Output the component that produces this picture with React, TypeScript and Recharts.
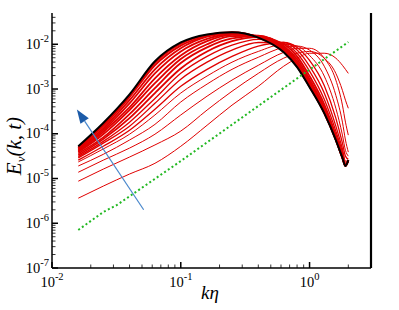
import { LineChart, Line, XAxis, YAxis, ReferenceArea, ReferenceLine } from "recharts";

// wavenumber samples (k*eta) shared by all spectra
const kEta = [0.016, 0.025, 0.04, 0.063, 0.1, 0.16, 0.25, 0.4, 0.63, 0.8, 1.0, 1.3, 1.6, 1.8, 1.9, 2.0];

// log10 E_v(k,t), earliest spectrum first
const spec01 = [-5.44, -5.17, -4.9, -4.66, -4.28, -3.81, -3.36, -2.94, -2.49, -2.31, -2.2, -2.2, -2.31, -2.47, -2.56, -2.65];
const spec02 = [-5.06, -4.79, -4.52, -4.25, -3.94, -3.47, -3.05, -2.65, -2.31, -2.2, -2.16, -2.31, -2.65, -3.03, -3.25, -3.43];
const spec03 = [-4.86, -4.59, -4.32, -4.01, -3.58, -3.16, -2.8, -2.47, -2.18, -2.09, -2.09, -2.31, -2.8, -3.36, -3.74, -4.03];
const spec04 = [-4.72, -4.46, -4.14, -3.79, -3.29, -2.89, -2.56, -2.29, -2.07, -2.04, -2.13, -2.49, -3.14, -3.74, -4.14, -4.41];
const spec05 = [-4.63, -4.34, -4.01, -3.58, -3.09, -2.71, -2.4, -2.16, -2.0, -2.04, -2.25, -2.71, -3.43, -4.03, -4.37, -4.5];
const spec06 = [-4.59, -4.28, -3.92, -3.45, -2.94, -2.56, -2.27, -2.04, -1.96, -2.07, -2.36, -2.92, -3.65, -4.21, -4.5, -4.57];
const spec07 = [-4.54, -4.21, -3.83, -3.32, -2.78, -2.4, -2.13, -1.96, -1.96, -2.13, -2.49, -3.09, -3.83, -4.34, -4.61, -4.61];
const spec08 = [-4.51, -4.17, -3.74, -3.21, -2.65, -2.27, -2.02, -1.89, -1.98, -2.2, -2.6, -3.23, -3.94, -4.41, -4.66, -4.63];
const spec09 = [-4.48, -4.12, -3.65, -3.09, -2.54, -2.16, -1.93, -1.84, -2.0, -2.27, -2.71, -3.34, -4.03, -4.48, -4.68, -4.61];
const spec10 = [-4.44, -4.08, -3.56, -2.98, -2.42, -2.07, -1.87, -1.82, -2.04, -2.33, -2.78, -3.41, -4.08, -4.5, -4.7, -4.59];
const spec11 = [-4.41, -4.01, -3.47, -2.87, -2.33, -2.0, -1.82, -1.81, -2.07, -2.38, -2.83, -3.45, -4.1, -4.52, -4.7, -4.59];
const spec12 = [-4.39, -3.96, -3.41, -2.76, -2.25, -1.93, -1.79, -1.81, -2.09, -2.42, -2.87, -3.47, -4.12, -4.52, -4.7, -4.59];
const spec13 = [-4.37, -3.92, -3.32, -2.65, -2.16, -1.88, -1.77, -1.82, -2.11, -2.45, -2.89, -3.5, -4.12, -4.53, -4.71, -4.59];
const spec14 = [-4.34, -3.88, -3.25, -2.56, -2.09, -1.83, -1.75, -1.83, -2.13, -2.47, -2.92, -3.52, -4.13, -4.54, -4.72, -4.59];
const spec15 = [-4.32, -3.83, -3.18, -2.47, -2.03, -1.81, -1.74, -1.84, -2.16, -2.49, -2.94, -3.53, -4.14, -4.54, -4.72, -4.59];
const spec16 = [-4.3, -3.8, -3.15, -2.42, -1.99, -1.79, -1.73, -1.85, -2.17, -2.5, -2.95, -3.54, -4.14, -4.54, -4.72, -4.59];
const finalSpec = [-4.28, -3.76, -3.12, -2.38, -1.96, -1.78, -1.73, -1.85, -2.18, -2.51, -2.96, -3.54, -4.14, -4.54, -4.72, -4.59];

// green dotted reference line
const slopeK = [0.016, 0.025, 0.032, 0.1, 2.0];
const slopeLog = [-6.15, -5.75, -5.59, -4.61, -1.95];

// blue arrow (time direction)
const arrowTail = { k: 0.0515, e: 2.0e-6 };
const arrowTip = { k: 0.0156, e: 3.5e-4 };

const xTicks = [
  0.01, 0.02, 0.03, 0.04, 0.05, 0.06, 0.07, 0.08, 0.09,
  0.1, 0.2, 0.3, 0.4, 0.5, 0.6, 0.7, 0.8, 0.9,
  1, 2,
];
const yTicks = [
  1e-7, 2e-7, 3e-7, 4e-7, 5e-7, 6e-7, 7e-7, 8e-7, 9e-7,
  1e-6, 2e-6, 3e-6, 4e-6, 5e-6, 6e-6, 7e-6, 8e-6, 9e-6,
  1e-5, 2e-5, 3e-5, 4e-5, 5e-5, 6e-5, 7e-5, 8e-5, 9e-5,
  1e-4, 2e-4, 3e-4, 4e-4, 5e-4, 6e-4, 7e-4, 8e-4, 9e-4,
  1e-3, 2e-3, 3e-3, 4e-3, 5e-3, 6e-3, 7e-3, 8e-3, 9e-3,
  1e-2, 2e-2, 3e-2, 4e-2,
];

const redSeries = [
  spec01, spec02, spec03, spec04, spec05, spec06, spec07, spec08,
  spec09, spec10, spec11, spec12, spec13, spec14, spec15, spec16,
];

const rows = kEta.map((k, i) => {
  const row: Record<string, number> = { k, fin: 10 ** finalSpec[i] };
  redSeries.forEach((s, j) => {
    row[`r${j}`] = 10 ** s[i];
  });
  return row;
});

const slopeRows = slopeK.map((k, i) => ({ k, e: 10 ** slopeLog[i] }));

const SERIF = "'Liberation Serif', 'Times New Roman', serif";
const PLOT_LEFT = 52;
const PLOT_BOTTOM = 268;

function exponentOf(v: number) {
  const l = Math.log10(v);
  const r = Math.round(l);
  return { r, major: Math.abs(l - r) < 1e-9 };
}

function XTick(props: any) {
  const { x, payload } = props;
  const { r, major } = exponentOf(payload.value);
  return (
    <g>
      <line x1={x} x2={x} y1={PLOT_BOTTOM} y2={PLOT_BOTTOM - (major ? 6 : 3.5)} stroke="#000" strokeWidth={major ? 1.5 : 0.8} />
      {major && (
        <text x={x} y={287} textAnchor="middle" fontFamily={SERIF} fontSize={14.5} fill="#000">
          10<tspan dy={-7} fontSize={10.5}>{r}</tspan>
        </text>
      )}
    </g>
  );
}

function YTick(props: any) {
  const { y, payload } = props;
  const { r, major } = exponentOf(payload.value);
  return (
    <g>
      <line x1={PLOT_LEFT} x2={PLOT_LEFT + (major ? 6 : 3.5)} y1={y} y2={y} stroke="#000" strokeWidth={major ? 1.5 : 0.8} />
      {major && (
        <text x={49} y={y + 4.5} textAnchor="end" fontFamily={SERIF} fontSize={14.5} fill="#000">
          10<tspan dy={-7} fontSize={10.5}>{r}</tspan>
        </text>
      )}
    </g>
  );
}

function ArrowShape(props: any) {
  const { x1, y1, x2, y2 } = props;
  const dx = x2 - x1;
  const dy = y2 - y1;
  const len = Math.sqrt(dx * dx + dy * dy) || 1;
  const ux = dx / len;
  const uy = dy / len;
  const head = 14;
  const half = 5;
  const bx = x2 - ux * head;
  const by = y2 - uy * head;
  const pts = `${x2},${y2} ${bx - uy * half},${by + ux * half} ${bx + uy * half},${by - ux * half}`;
  return (
    <g>
      <line x1={x1} y1={y1} x2={bx} y2={by} stroke="#4a88cc" strokeWidth={1.2} />
      <polygon points={pts} fill="#1c5ba8" />
    </g>
  );
}

// older spectra are drawn thin, the crowded late ones a bit wider so the band reads solid
const redWidth = (j: number) => (j < 5 ? 1 : j < 8 ? 1.3 : 1.8);

export default function App() {
  return (
    <div style={{ position: "absolute", left: 0, top: 0 }}>
      <LineChart
        width={399}
        height={310}
        data={rows}
        margin={{ top: 13, right: 28, bottom: 0, left: 0 }}
      >
        <XAxis
          dataKey="k"
          type="number"
          scale="log"
          domain={[0.01, 3]}
          ticks={xTicks}
          interval={0}
          allowDataOverflow
          tickLine={false}
          tick={<XTick />}
          axisLine={{ stroke: "#000", strokeWidth: 1.5 }}
          height={42}
          label={() => (
            <text x={210} y={299} textAnchor="middle" fontFamily={SERIF} fontStyle="italic" fontSize={19} fill="#000">
              kη
            </text>
          )}
        />
        <YAxis
          type="number"
          scale="log"
          domain={[1e-7, 0.05]}
          ticks={yTicks}
          interval={0}
          allowDataOverflow
          tickLine={false}
          tick={<YTick />}
          axisLine={{ stroke: "#000", strokeWidth: 1.5 }}
          width={52}
          label={() => (
            <text x={21} y={146} transform="rotate(-90 21 146)" textAnchor="middle" fontFamily={SERIF} fontStyle="italic" fontSize={21} fill="#000">
              E<tspan dy={4} fontSize={13}>v</tspan><tspan dy={-4}>(k, t)</tspan>
            </text>
          )}
        />

        <ReferenceArea stroke="#000" strokeWidth={1.5} fill="none" fillOpacity={0} ifOverflow="visible" />
        <ReferenceLine x={3} stroke="#000" strokeWidth={2.2} ifOverflow="visible" />

        {redSeries.map((_, j) => (
          <Line
            key={`r${j}`}
            dataKey={`r${j}`}
            type="monotone"
            stroke="#e00000"
            strokeWidth={redWidth(j)}
            dot={false}
            activeDot={false}
            isAnimationActive={false}
          />
        ))}

        <Line
          dataKey="fin"
          type="monotone"
          stroke="#000"
          strokeWidth={2}
          dot={false}
          activeDot={false}
          isAnimationActive={false}
        />

        <Line
          data={slopeRows}
          dataKey="e"
          type="linear"
          stroke="#22b822"
          strokeWidth={2}
          strokeDasharray="2 2.5"
          dot={false}
          activeDot={false}
          isAnimationActive={false}
        />

        <ReferenceLine
          segment={[
            { x: arrowTail.k, y: arrowTail.e },
            { x: arrowTip.k, y: arrowTip.e },
          ]}
          shape={ArrowShape}
          ifOverflow="visible"
        />
      </LineChart>
    </div>
  );
}
